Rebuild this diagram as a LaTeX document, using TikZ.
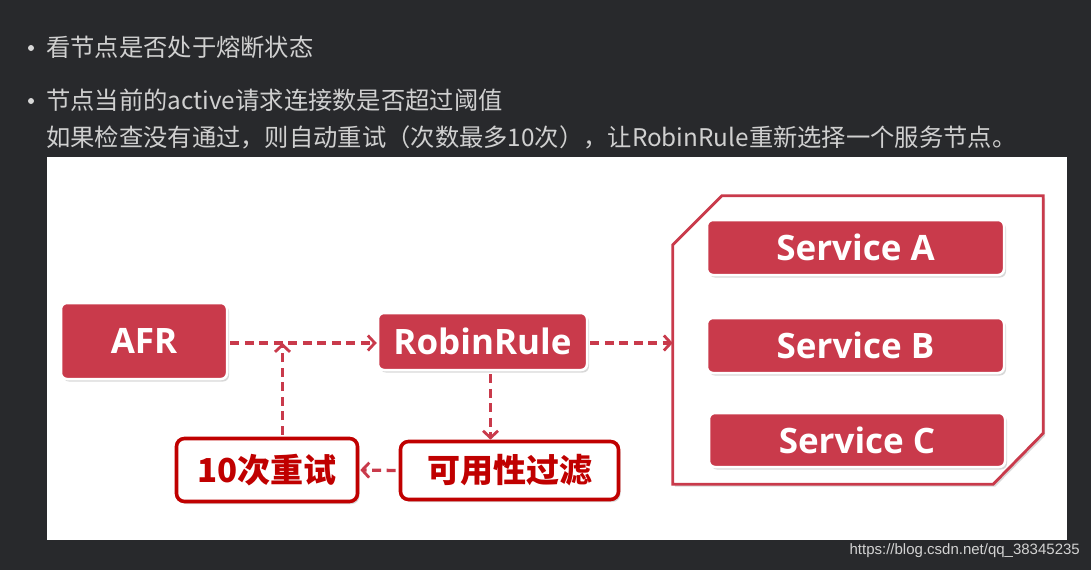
\documentclass[tikz,border=0pt]{standalone}
\usepackage{fontspec}
\newfontfamily\cjk{Noto Sans CJK SC}
\newfontfamily\labfont{Open Sans}
\newfontfamily\urlfont{Liberation Sans}
\usetikzlibrary{arrows.meta,shadows,calc}
\definecolor{bg}{HTML}{28292C}
\definecolor{txt}{HTML}{D0D0D0}
\definecolor{crim}{HTML}{C93A4B}
\definecolor{dred}{HTML}{C00000}
\begin{document}
\begin{tikzpicture}[x=1pt,y=-1pt,
  fillbox/.style={draw=white, line width=2.5pt, fill=crim, rounded corners=6pt, inner sep=0pt,
    text=white, font=\labfont\bfseries\fontsize{35}{40}\selectfont,
    drop shadow={opacity=0.3, shadow xshift=2pt, shadow yshift=-2.5pt}},
  linebox/.style={draw=dred, line width=3.6pt, fill=white, rounded corners=8pt, inner sep=0pt,
    text=dred, font=\cjk\bfseries\fontsize{33}{36}\selectfont,
    drop shadow={opacity=0.3, shadow xshift=2pt, shadow yshift=-2.5pt}},
  flow/.style={draw=crim, line width=3.3pt, dash pattern=on 9pt off 5.5pt,
    -{Straight Barb[length=7pt,width=15pt,line width=2.8pt]}},
  para/.style={anchor=west, inner sep=0pt, text=txt, font=\cjk\fontsize{24.3}{28}\selectfont},
  dot/.style={circle, fill=txt!85, inner sep=0pt, minimum size=6pt}
]
\useasboundingbox (0,0) rectangle (1091,570);
\fill[bg] (0,0) rectangle (1091,570);

% bullet text
\node[dot] (b1) at (31,48) {};
\node[dot] (b2) at (31,101) {};
\node[para] (t1) at (46,47) {看节点是否处于熔断状态};
\node[para] (t2) at (46,100) {节点当前的active请求连接数是否超过阈值};
\node[para] (t3) at (46,137) {如果检查没有通过，则自动重试（次数最多10次），让RobinRule重新选择一个服务节点。};

% white panel
\fill[white] (47,157) rectangle (1067,540);

% service pool container
\node[inner sep=0pt, minimum width=370pt, minimum height=288pt] (pool) at (858,340) {};
\coordinate (p1) at ($(pool.north west)+(0,49)$);
\coordinate (p2) at ($(pool.north west)+(49,0)$);
\coordinate (p3) at ($(pool.south east)+(0,-51)$);
\coordinate (p4) at ($(pool.south east)+(-50,0)$);
\draw[crim, line width=2.8pt, fill=white, drop shadow={opacity=0.3, shadow xshift=2pt, shadow yshift=-2.5pt}]
  (p1) -- (p2) -- (pool.north east) -- (p3) -- (p4) -- (pool.south west) -- cycle;

\node[fillbox, minimum width=297pt, minimum height=55pt] (sa) at (855.5,247.5) {Service A};
\node[fillbox, minimum width=297pt, minimum height=55pt] (sb) at (855.5,345.5) {Service B};
\node[fillbox, minimum width=296pt, minimum height=54pt] (sc) at (857,440) {Service C};

% main nodes
\node[fillbox, minimum width=166pt, minimum height=76pt] (afr) at (144,341) {AFR};
\node[fillbox, minimum width=209pt, minimum height=57pt] (rr) at (482.5,341.5) {RobinRule};
\node[linebox, minimum width=181pt, minimum height=63pt] (cs) at (267,470) {10次重试};
\node[linebox, minimum width=218pt, minimum height=58pt] (ky) at (509.5,470.5) {可用性过滤};

% connectors
\coordinate (j) at (282.5,343);
\draw[flow] ([xshift=2pt]afr.east |- j) -- (rr.west |- j);
\draw[flow] ([xshift=2pt]rr.east |- j) -- (pool.west |- j);
\draw[flow] ([xshift=8pt,yshift=-3pt]rr.south) -- ([xshift=8pt]rr.south |- ky.north);
\draw[flow] ([xshift=-3pt]ky.west) -- ([xshift=1pt]cs.east);
\draw[flow] ([yshift=2pt]cs.north -| j) -- (j);

% watermark
\node[anchor=east, inner sep=0pt, text=txt!95, font=\urlfont\fontsize{15}{18}\selectfont] (url) at (1080,551) {https://blog.csdn.net/qq\_38345235};
\end{tikzpicture}
\end{document}
